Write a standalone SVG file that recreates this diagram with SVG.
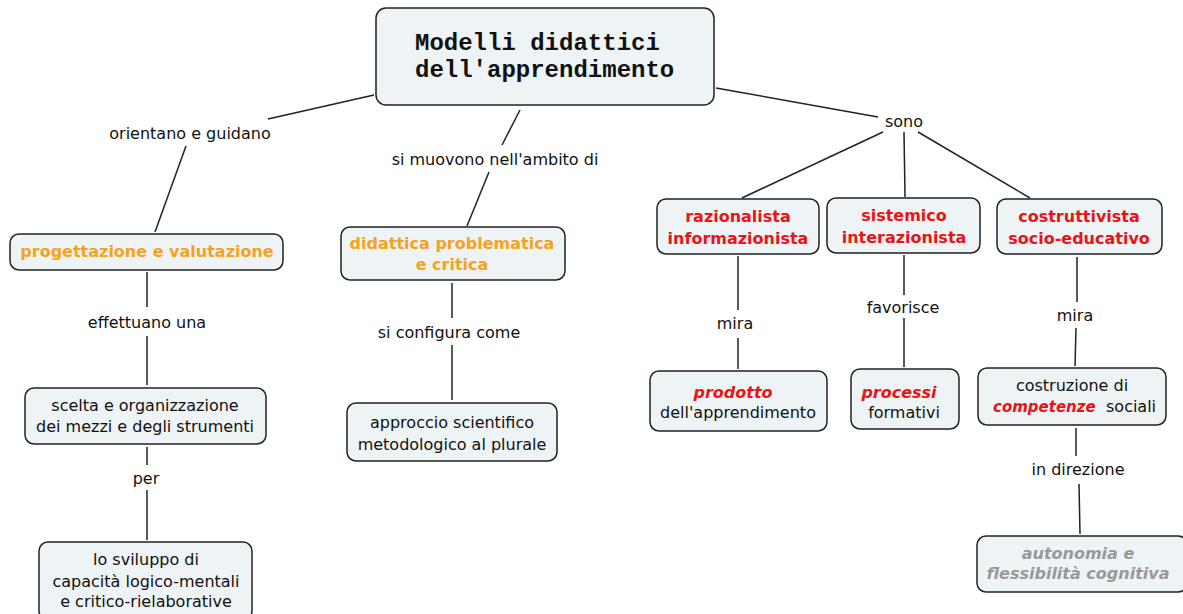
<svg xmlns="http://www.w3.org/2000/svg" width="1183" height="614" viewBox="0 0 1183 614">
<style>
.n{fill:#eef3f5;stroke:#222;stroke-width:1.5}
.c line{stroke:#222;stroke-width:1.5}
text{font-family:"DejaVu Sans",Verdana,sans-serif;font-size:16px;fill:#111;text-anchor:middle}
.t{font-family:"Liberation Mono","Courier New",monospace;font-size:24px;font-weight:bold;text-anchor:start}
.o{fill:#f7a21b;font-weight:bold}
.r{fill:#e81418;font-weight:bold}
.ri{fill:#e81418;font-weight:bold;font-style:italic}
.g{fill:#999;font-weight:bold;font-style:italic}
</style>
<rect width="1183" height="614" fill="#fff"/>
<g class="c" id="connectors">
<line x1="374" y1="95" x2="268" y2="119"/>
<line x1="186" y1="146" x2="155" y2="232"/>
<line x1="520" y1="110" x2="502" y2="145"/>
<line x1="489" y1="172" x2="467" y2="226"/>
<line x1="716" y1="88" x2="878" y2="117"/>
<line x1="883" y1="132" x2="742" y2="198"/>
<line x1="904" y1="132" x2="905" y2="197"/>
<line x1="918" y1="132" x2="1030" y2="198"/>
<line x1="147" y1="272" x2="147" y2="307"/>
<line x1="147" y1="336" x2="147" y2="385"/>
<line x1="147" y1="447" x2="147" y2="465"/>
<line x1="147" y1="490" x2="147" y2="540"/>
<line x1="452" y1="283" x2="452" y2="318"/>
<line x1="452" y1="345" x2="452" y2="400"/>
<line x1="738" y1="256" x2="738" y2="310"/>
<line x1="738" y1="338" x2="738" y2="369"/>
<line x1="904" y1="255" x2="904" y2="295"/>
<line x1="904" y1="318" x2="904" y2="367"/>
<line x1="1077" y1="257" x2="1077" y2="302"/>
<line x1="1076" y1="328" x2="1075" y2="366"/>
<line x1="1076" y1="428" x2="1076" y2="456"/>
<line x1="1079" y1="484" x2="1080" y2="534"/>
</g>
<g id="labels">
<text x="190" y="139">orientano e guidano</text>
<text x="495" y="165">si muovono nell'ambito di</text>
<text x="904" y="127">sono</text>
<text x="147" y="328">effettuano una</text>
<text x="146" y="484">per</text>
<text x="449" y="338">si configura come</text>
<text x="735" y="329">mira</text>
<text x="903" y="313">favorisce</text>
<text x="1075" y="321">mira</text>
<text x="1078" y="475">in direzione</text>
</g>
<g id="title">
<rect class="n" x="376" y="8" width="338" height="97" rx="10"/>
<text class="t" x="415" y="50">Modelli didattici</text>
<text class="t" x="415" y="77">dell'apprendimento</text>
</g>
<g id="progettazione">
<rect class="n" x="10" y="234" width="273" height="36" rx="9"/>
<text class="o" x="147" y="257">progettazione e valutazione</text>
</g>
<g id="didattica">
<rect class="n" x="341" y="227" width="224" height="53" rx="9"/>
<text class="o" x="452" y="249">didattica problematica</text>
<text class="o" x="452" y="270">e critica</text>
</g>
<g id="razionalista">
<rect class="n" x="657" y="199" width="162" height="55" rx="9"/>
<text class="r" x="738" y="222">razionalista</text>
<text class="r" x="738" y="244">informazionista</text>
</g>
<g id="sistemico">
<rect class="n" x="827" y="198" width="153" height="55" rx="9"/>
<text class="r" x="904" y="221">sistemico</text>
<text class="r" x="904" y="243">interazionista</text>
</g>
<g id="costruttivista">
<rect class="n" x="997" y="199" width="165" height="55" rx="9"/>
<text class="r" x="1079" y="222">costruttivista</text>
<text class="r" x="1079" y="244">socio-educativo</text>
</g>
<g id="scelta">
<rect class="n" x="25" y="388" width="241" height="56" rx="9"/>
<text x="145" y="411">scelta e organizzazione</text>
<text x="145" y="432">dei mezzi e degli strumenti</text>
</g>
<g id="sviluppo">
<rect class="n" x="39" y="542" width="213" height="78" rx="9"/>
<text x="146" y="565">lo sviluppo di</text>
<text x="146" y="587">capacità logico-mentali</text>
<text x="146" y="607">e critico-rielaborative</text>
</g>
<g id="approccio">
<rect class="n" x="347" y="403" width="210" height="58" rx="9"/>
<text x="452" y="428">approccio scientifico</text>
<text x="452" y="450">metodologico al plurale</text>
</g>
<g id="prodotto">
<rect class="n" x="650" y="371" width="177" height="60" rx="9"/>
<text class="ri" x="733" y="398">prodotto</text>
<text x="738" y="418">dell'apprendimento</text>
</g>
<g id="processi">
<rect class="n" x="851" y="369" width="108" height="60" rx="9"/>
<text class="ri" x="899" y="398">processi</text>
<text x="904" y="418">formativi</text>
</g>
<g id="costruzione">
<rect class="n" x="978" y="368" width="188" height="57" rx="9"/>
<text x="1072" y="391">costruzione di</text>
<text class="ri" x="993" y="412" style="text-anchor:start;font-size:15px">competenze</text>
<text x="1106" y="412" style="text-anchor:start">sociali</text>
</g>
<g id="autonomia">
<rect class="n" x="977" y="536" width="210" height="56" rx="9"/>
<text class="g" x="1078" y="559">autonomia e</text>
<text class="g" x="1078" y="579">flessibilità cognitiva</text>
</g>
</svg>
